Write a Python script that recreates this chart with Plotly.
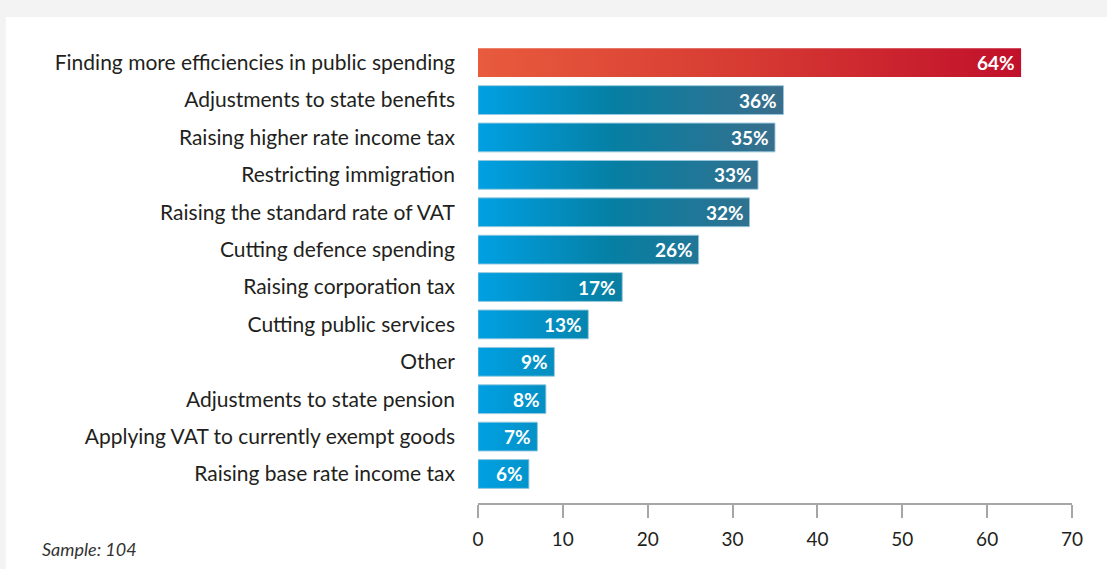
import plotly.graph_objects as go

# Survey responses, listed top to bottom
categories = [
    "Finding more efficiencies in public spending",
    "Adjustments to state benefits",
    "Raising higher rate income tax",
    "Restricting immigration",
    "Raising the standard rate of VAT",
    "Cutting defence spending",
    "Raising corporation tax",
    "Cutting public services",
    "Other",
    "Adjustments to state pension",
    "Applying VAT to currently exempt goods",
    "Raising base rate income tax",
]
values = [64, 36, 35, 33, 32, 26, 17, 13, 9, 8, 7, 6]
highlight = [True] + [False] * 11
x_ticks = [0, 10, 20, 30, 40, 50, 60, 70]
sample_note = "Sample: 104"

BAR_W = 0.77
TEXT = "#231f20"
FONT = "Lato, 'Open Sans', sans-serif"


def rect_path(idx_vals):
    """Closed rectangle outlines (x, y) for horizontal bars, separated by None."""
    xs, ys = [], []
    for i, v in idx_vals:
        y0, y1 = i - BAR_W / 2, i + BAR_W / 2
        xs += [0, v, v, 0, 0, None]
        ys += [y0, y0, y1, y1, y0, None]
    return xs, ys


fig = go.Figure()

blue = [(i, v) for i, (v, h) in enumerate(zip(values, highlight)) if not h]
red = [(i, v) for i, (v, h) in enumerate(zip(values, highlight)) if h]
blue_max = max(v for _, v in blue)
red_max = max(v for _, v in red)

bx, by = rect_path(blue)
fig.add_trace(go.Scatter(
    x=bx, y=by, mode="lines", fill="toself",
    line=dict(color="rgba(150,200,222,0.9)", width=1),
    fillgradient=dict(
        type="horizontal", start=0, stop=blue_max,
        colorscale=[[0, "#00a0e3"], [16 / blue_max, "#067fa3"], [1, "#3a6e8b"]],
    ),
    hoverinfo="skip", showlegend=False,
))

rx, ry = rect_path(red)
fig.add_trace(go.Scatter(
    x=rx, y=ry, mode="lines", fill="toself",
    line=dict(width=0),
    fillgradient=dict(
        type="horizontal", start=0, stop=red_max,
        colorscale=[[0, "#e85b3d"], [0.5, "#d63a32"], [1, "#c1102b"]],
    ),
    hoverinfo="skip", showlegend=False,
))

# Value labels inside the end of each bar
for i, v in enumerate(values):
    fig.add_annotation(
        x=v, y=i, xref="x", yref="y", text=f"{v}%",
        showarrow=False, xanchor="right", xshift=-4,
        font=dict(family=FONT, size=19, color="white", weight="bold"),
    )

fig.add_annotation(
    x=-0.738, y=-0.1, xref="paper", yref="paper", text=sample_note,
    showarrow=False, xanchor="left", yanchor="middle",
    font=dict(family=FONT, size=18, color="#333333", style="italic"),
)

# White card over the light grey page
fig.add_shape(
    type="rect", xref="paper", yref="paper",
    x0=-0.795, x1=1.07, y0=-0.16, y1=1.0588,
    fillcolor="white", line=dict(width=0), layer="below",
)

fig.update_layout(
    width=1107, height=569,
    margin=dict(l=478, r=35, t=44, b=66),
    paper_bgcolor="#f3f3f3", plot_bgcolor="white",
    font=dict(family=FONT, color=TEXT),
    xaxis=dict(
        range=[0, 70], tickvals=x_ticks, showgrid=False, zeroline=False,
        showline=True, linecolor="#a6a6a6", linewidth=1.5,
        ticks="outside", ticklen=13, tickcolor="#a6a6a6", tickwidth=1.5,
        tickfont=dict(size=19, color=TEXT), ticklabelstandoff=5,
        fixedrange=True,
    ),
    yaxis=dict(
        range=[11.776, -0.5], tickvals=list(range(len(categories))),
        ticktext=categories, showgrid=False, zeroline=False, showline=False,
        tickfont=dict(size=21, color=TEXT), ticks="", ticklabelstandoff=22,
        fixedrange=True,
    ),
)

fig.write_html("out.html")
